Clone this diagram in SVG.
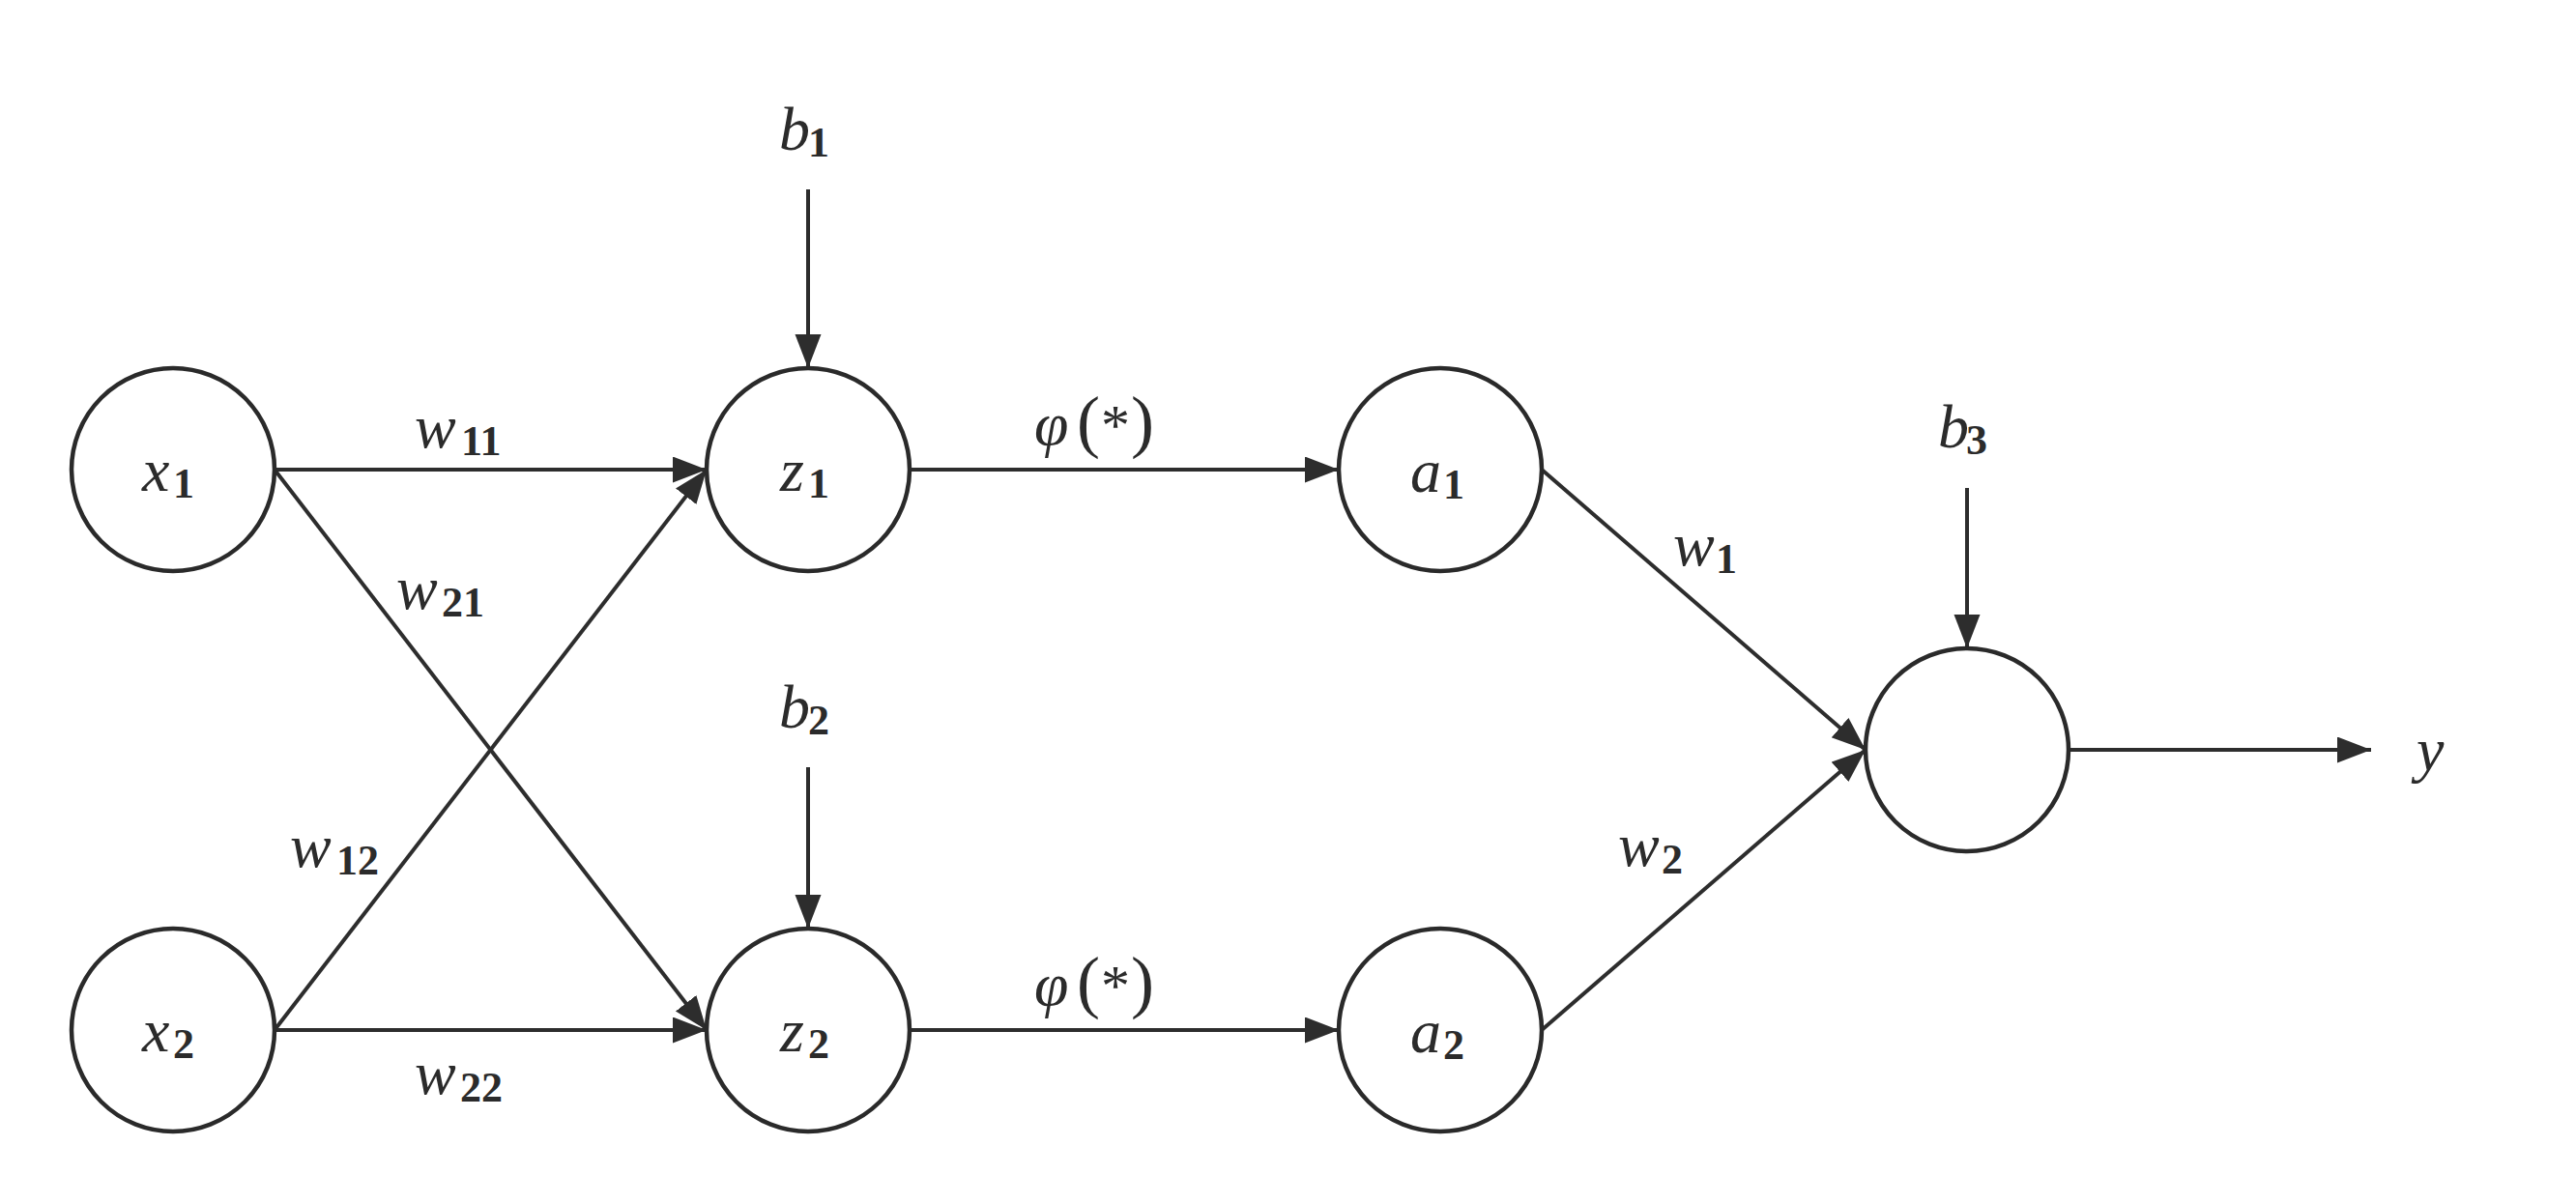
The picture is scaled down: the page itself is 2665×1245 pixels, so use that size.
<svg xmlns="http://www.w3.org/2000/svg" width="2665" height="1245" viewBox="0 0 2665 1245">
<style>
.node{fill:#ffffff;stroke:#2a2a2a;stroke-width:4.5}
.edge{stroke:#2d2d2d;stroke-width:4;fill:none;marker-end:url(#arr)}
.m{font-family:"Liberation Serif","Times New Roman",serif;font-style:italic;font-size:64px;fill:#2b2b2b}
.s{font-family:"Liberation Serif","Times New Roman",serif;font-style:normal;font-weight:bold;font-size:44px;fill:#2b2b2b}
.u{font-family:"Liberation Serif","Times New Roman",serif;font-style:normal;font-size:60px;fill:#2b2b2b}
.p{font-family:"Liberation Serif","Times New Roman",serif;font-style:normal;font-size:72px;fill:#2b2b2b}
</style>
<defs>
<marker id="arr" markerUnits="userSpaceOnUse" markerWidth="40" markerHeight="30" refX="35" refY="13.5" orient="auto">
<path d="M0,0 L35,13.5 L0,27 Z" fill="#2d2d2d"/>
</marker>
</defs>
<rect width="2665" height="1245" fill="#ffffff"/>
<g id="connectors">
<line class="edge" x1="284" y1="486" x2="731" y2="486"/>
<line class="edge" x1="284" y1="486" x2="731" y2="1066"/>
<line class="edge" x1="284" y1="1066" x2="731" y2="486"/>
<line class="edge" x1="284" y1="1066" x2="731" y2="1066"/>
<line class="edge" x1="836" y1="196" x2="836" y2="381"/>
<line class="edge" x1="836" y1="794" x2="836" y2="961"/>
<line class="edge" x1="941" y1="486" x2="1385" y2="486"/>
<line class="edge" x1="941" y1="1066" x2="1385" y2="1066"/>
<line class="edge" x1="1595" y1="486" x2="1930" y2="776"/>
<line class="edge" x1="1595" y1="1066" x2="1930" y2="776"/>
<line class="edge" x1="2035" y1="505" x2="2035" y2="671"/>
<line class="edge" x1="2140" y1="776" x2="2453" y2="776"/>
</g>
<g id="edge-labels">
<text class="m" x="429" y="463">w<tspan class="s" x="477" y="471">11</tspan></text>
<text class="m" x="410" y="630">w<tspan class="s" x="457" y="638">21</tspan></text>
<text class="m" x="300" y="897">w<tspan class="s" x="348" y="905">12</tspan></text>
<text class="m" x="429" y="1132">w<tspan class="s" x="476" y="1140">22</tspan></text>
<text class="m" x="1731" y="585">w<tspan class="s" x="1775" y="593">1</tspan></text>
<text class="m" x="1674" y="896">w<tspan class="s" x="1719" y="904">2</tspan></text>
<text class="m" x="1070" y="460">φ<tspan class="p" x="1114">(</tspan><tspan class="u" x="1139">*</tspan><tspan class="p" x="1170">)</tspan></text>
<text class="m" x="1070" y="1040">φ<tspan class="p" x="1114">(</tspan><tspan class="u" x="1139">*</tspan><tspan class="p" x="1170">)</tspan></text>
</g>
<g id="bias-b1"><text class="m" x="806" y="155">b<tspan class="s" x="836" y="162">1</tspan></text></g>
<g id="bias-b2"><text class="m" x="806" y="753">b<tspan class="s" x="836" y="760">2</tspan></text></g>
<g id="bias-b3"><text class="m" x="2005" y="463">b<tspan class="s" x="2034" y="470">3</tspan></text></g>
<g id="output-y"><text class="m" x="2500" y="797">y</text></g>
<g id="node-x1"><circle class="node" cx="179" cy="486" r="105"/><text class="m" x="147" y="508">x<tspan class="s" x="179" y="515">1</tspan></text></g>
<g id="node-x2"><circle class="node" cx="179" cy="1066" r="105"/><text class="m" x="147" y="1088">x<tspan class="s" x="179" y="1095">2</tspan></text></g>
<g id="node-z1"><circle class="node" cx="836" cy="486" r="105"/><text class="m" x="807" y="508">z<tspan class="s" x="836" y="515">1</tspan></text></g>
<g id="node-z2"><circle class="node" cx="836" cy="1066" r="105"/><text class="m" x="807" y="1088">z<tspan class="s" x="836" y="1095">2</tspan></text></g>
<g id="node-a1"><circle class="node" cx="1490" cy="486" r="105"/><text class="m" x="1459" y="509">a<tspan class="s" x="1493" y="516">1</tspan></text></g>
<g id="node-a2"><circle class="node" cx="1490" cy="1066" r="105"/><text class="m" x="1459" y="1089">a<tspan class="s" x="1493" y="1096">2</tspan></text></g>
<g id="node-out"><circle class="node" cx="2035" cy="776" r="105"/></g>
</svg>
